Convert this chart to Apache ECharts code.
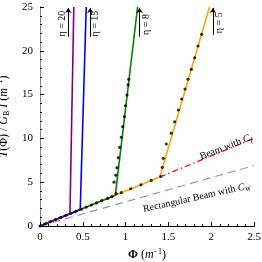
<!DOCTYPE html>
<html><head><meta charset="utf-8">
<script src="https://cdn.jsdelivr.net/npm/echarts@6/dist/echarts.min.js"></script>
<style>html,body{margin:0;padding:0;background:#fff}#c{width:262px;height:262px}</style>
</head><body><div id="c"></div>
<script>
// Series (Φ, T) points
const eta20X = [0, 0.35, 0.395], eta20Y = [0, 1.4, 25];
const eta15X = [0, 0.47, 0.54], eta15Y = [0, 1.88, 25];
const eta8X  = [0, 0.88, 1.14], eta8Y  = [0, 3.52, 25];
const eta5X  = [0, 1.4, 1.98],  eta5Y  = [0, 5.6, 25];
const beamCfX = [1.4, 2.5], beamCfY = [5.6, 10];
const rectCwX = [0, 2.5], rectCwY = [0, 6.9];
// data dots
const dotX = [0, 0.06, 0.12, 0.18, 0.24, 0.30, 0.36, 0.42, 0.48, 0.54, 0.60, 0.66, 0.72, 0.79, 0.84,
  0.95, 1.06, 1.18, 1.30, 1.41,
  0.89, 0.865, 0.885, 0.90, 0.915, 0.93, 0.95, 0.966, 0.986, 0.998, 1.017, 1.03, 1.036,
  1.428, 1.44, 1.475, 1.534, 1.573, 1.616, 1.655, 1.694, 1.729, 1.768, 1.807, 1.846, 1.889];
const dotY = [0, 0.24, 0.48, 0.72, 0.96, 1.2, 1.44, 1.68, 1.92, 2.16, 2.4, 2.64, 2.9, 3.15, 3.35,
  3.8, 4.25, 4.7, 5.2, 5.65,
  3.7, 5.0, 5.8, 6.66, 7.8, 8.98, 10.13, 11.34, 12.48, 13.73, 14.95, 16.1, 16.75,
  6.7, 7.73, 9.36, 10.6, 11.9, 13.24, 14.5, 15.64, 16.75, 17.89, 19.2, 20.55, 21.88];
// axis ticks
const xTicks = [0, 0.5, 1, 1.5, 2, 2.5];
const yTicks = [0, 5, 10, 15, 20, 25];
// annotations
const etaLabels = ['η = 20', 'η = 15', 'η = 8', 'η = 5'];
const arrowX = [0.33, 0.587, 1.162, 2.02];
const arrowY0 = [21.6, 21.6, 21.6, 21.8];
const arrowY1 = [24.9, 24.9, 24.9, 24.9];
const etaTextX = [0.258, 0.646, 1.244, 2.09];
const etaTextY = [23.1, 23.1, 23.0, 23.2];
const beamLabels = ['Beam with ', 'Rectangular Beam with '];
const beamSub = ['f', 'W'];
const beamTextX = [2.17, 1.83], beamTextY = [9.0, 3.25];

const zip = (a, b) => a.map((v, i) => [v, b[i]]);
const serif = 'Liberation Serif, DejaVu Serif, serif';
const chart = echarts.init(document.getElementById('c'), null, {renderer: 'canvas'});
const lineS = (d, color, type, w, z) => ({
  type: 'line', data: d, showSymbol: false, symbol: 'none', z: z, animation: false,
  lineStyle: {color: color, width: w, type: type}, silent: true
});
const axisCommon = {
  axisLine: {show: true, lineStyle: {color: '#000', width: 1}},
  axisTick: {show: true, inside: true, length: 4, lineStyle: {color: '#000'}},
  minorTick: {show: true, splitNumber: 5, length: 2, lineStyle: {color: '#000'}},
  splitLine: {show: false},
  axisLabel: {fontFamily: serif, fontSize: 11, color: '#000'}
};
chart.setOption({
  animation: false,
  grid: {left: 40, right: 8, top: 7, bottom: 36, containLabel: false, outerBoundsMode: 'none'},
  xAxis: [Object.assign({}, axisCommon, {
    type: 'value', min: xTicks[0], max: xTicks[xTicks.length - 1], interval: 0.5,
    axisLabel: Object.assign({}, axisCommon.axisLabel, {margin: 6, formatter: v => String(v)}),
    name: '{p|Φ} {n|(}{i|m}{sup|−1}{n|)}', nameLocation: 'middle', nameGap: 20,
    nameTextStyle: {fontFamily: serif, color: '#000', rich: {
      p: {fontFamily: serif, fontSize: 12, fontWeight: 'bold', lineHeight: 14},
      n: {fontFamily: serif, fontSize: 12, lineHeight: 14},
      i: {fontFamily: serif, fontSize: 12, fontStyle: 'italic', lineHeight: 14},
      sup: {fontFamily: serif, fontSize: 8, verticalAlign: 'top', lineHeight: 14}
    }}
  }), {
    type: 'value', position: 'top', min: 0, max: 2.5,
    axisLine: {show: true, lineStyle: {color: '#000'}}, axisTick: {show: false},
    axisLabel: {show: false}, splitLine: {show: false}
  }],
  yAxis: [Object.assign({}, axisCommon, {
    type: 'value', min: yTicks[0], max: yTicks[yTicks.length - 1], interval: 5,
    axisLabel: Object.assign({}, axisCommon.axisLabel, {margin: 7}),
    name: '{i|T}{n|(Φ) / }{i|G}{sub|B}{n| }{i|I} {n|(}{i|m}{sup|−1}{n|)}',
    nameLocation: 'middle', nameGap: 26, nameRotate: 90,
    nameTextStyle: {fontFamily: serif, color: '#000', rich: {
      n: {fontFamily: serif, fontSize: 12, lineHeight: 15},
      i: {fontFamily: serif, fontSize: 12, fontStyle: 'italic', lineHeight: 15},
      sub: {fontFamily: serif, fontSize: 8, verticalAlign: 'bottom', lineHeight: 15},
      sup: {fontFamily: serif, fontSize: 8, verticalAlign: 'top', lineHeight: 15}
    }}
  }), {
    type: 'value', position: 'right', min: 0, max: 25,
    axisLine: {show: true, lineStyle: {color: '#888'}}, axisTick: {show: false},
    axisLabel: {show: false}, splitLine: {show: false}
  }],
  series: [
    lineS(zip(rectCwX, rectCwY), '#999999', [8, 5], 1.2, 2),
    lineS(zip(beamCfX, beamCfY), '#ff0000', [6, 3, 1.5, 3], 1.2, 2),
    lineS(zip(eta5X, eta5Y), '#ffa500', 'solid', 1.6, 3),
    lineS(zip(eta8X, eta8Y), '#008000', 'solid', 1.6, 4),
    lineS(zip(eta15X, eta15Y), '#0000ff', 'solid', 1.6, 5),
    lineS(zip(eta20X, eta20Y), '#800080', 'solid', 1.6, 6),
    {type: 'scatter', data: zip(dotX, dotY), symbol: 'circle', symbolSize: 3.2, z: 10,
     itemStyle: {color: '#000'}, silent: true},
    {type: 'lines', coordinateSystem: 'cartesian2d', z: 12, silent: true, animation: false,
     symbol: ['none', 'arrow'], symbolSize: [0, 5],
     lineStyle: {color: '#000', width: 1, opacity: 1},
     data: arrowX.map((x, i) => ({coords: [[x, arrowY0[i]], [x, arrowY1[i]]]}))}
  ]
});

const gr = [];
etaLabels.forEach((t, i) => {
  const p = chart.convertToPixel({gridIndex: 0}, [etaTextX[i], etaTextY[i]]);
  gr.push({type: 'text', x: p[0], y: p[1], rotation: Math.PI / 2, z: 20,
    style: {text: t, fontFamily: serif, fontSize: 10, fill: '#000', align: 'center', verticalAlign: 'middle'}});
});
const ang = [0.37, 0.22];
beamLabels.forEach((t, i) => {
  const p = chart.convertToPixel({gridIndex: 0}, [beamTextX[i], beamTextY[i]]);
  gr.push({type: 'text', x: p[0], y: p[1], rotation: ang[i], z: 20,
    style: {text: '{n|' + t + '}{i|C}{s|' + beamSub[i] + '}', fill: '#000', align: 'center', verticalAlign: 'middle',
      rich: {
        n: {fontFamily: serif, fontSize: 10, lineHeight: 13},
        i: {fontFamily: serif, fontSize: 10, fontStyle: 'italic', lineHeight: 13},
        s: {fontFamily: serif, fontSize: 7, fontStyle: 'italic', verticalAlign: 'bottom', lineHeight: 13}
      }}});
});
chart.setOption({graphic: gr});
</script></body></html>
